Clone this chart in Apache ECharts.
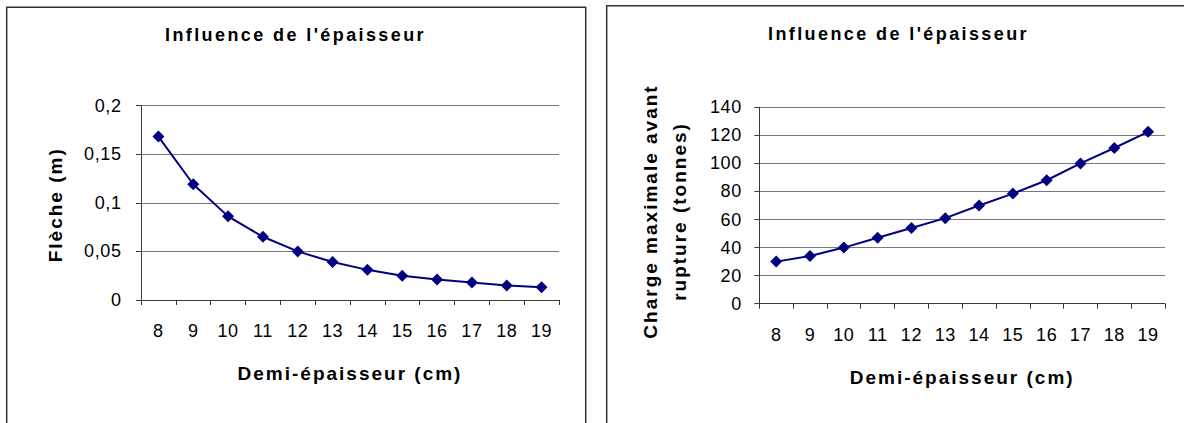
<!DOCTYPE html>
<html>
<head>
<meta charset="utf-8">
<script src="https://cdn.jsdelivr.net/npm/echarts@6/dist/echarts.min.js"></script>
<style>
html, body { margin: 0; padding: 0; background: #ffffff; }
#chart { width: 1184px; height: 423px; }
#chart text { letter-spacing: 0.6px; }
#chart text[style*="bold"] { letter-spacing: 2px; }
#chart text[style*="bold"][style*="18px"] { letter-spacing: 2.4px; }
</style>
</head>
<body>
<div id="chart"></div>
<script>
// ---- data ----
const categories = ['8', '9', '10', '11', '12', '13', '14', '15', '16', '17', '18', '19'];
const flecheValues = [0.168, 0.119, 0.086, 0.065, 0.05, 0.039, 0.031, 0.025, 0.021, 0.018, 0.015, 0.013];
const chargeValues = [30, 34, 40, 47, 54, 61, 70, 78.5, 88, 100, 111, 122.5];

const chartTitle = "Influence de l'épaisseur";
const xAxisTitle = 'Demi-épaisseur (cm)';
const flecheAxisTitle = 'Flèche (m)';
const chargeAxisTitle = 'Charge maximale avant\nrupture (tonnes)';

const flecheScale = { min: 0, max: 0.2, interval: 0.05 };
const chargeScale = { min: 0, max: 140, interval: 20 };

// ---- styling ----
const FONT = "'Liberation Sans', Arial, sans-serif";
const NAVY = '#000080';
const AXIS_COLOR = '#3a3a3a';
const GRID_COLOR = '#7a7a7a';

function frenchNumber(v) {
  return String(Math.round(v * 1000) / 1000).replace('.', ',');
}

function xAxis(gridIndex) {
  return {
    type: 'category',
    gridIndex: gridIndex,
    data: categories,
    boundaryGap: true,
    name: xAxisTitle,
    nameLocation: 'middle',
    nameGap: 64,
    nameTextStyle: { fontFamily: FONT, fontSize: 19, fontWeight: 'bold', color: '#000' },
    axisLine: { show: true, lineStyle: { color: AXIS_COLOR, width: 1 } },
    axisTick: { show: true, alignWithLabel: false, length: 5, inside: false, lineStyle: { color: AXIS_COLOR } },
    axisLabel: { fontFamily: FONT, fontSize: 18, color: '#000', margin: 22, interval: 0 },
    splitLine: { show: false }
  };
}

function yAxis(gridIndex, scale, name, nameGap, labelMargin, namePadding, lineHeight) {
  return {
    type: 'value',
    gridIndex: gridIndex,
    min: scale.min,
    max: scale.max,
    interval: scale.interval,
    name: name,
    nameLocation: 'middle',
    nameGap: nameGap,
    nameTextStyle: {
      fontFamily: FONT, fontSize: 19, fontWeight: 'bold', color: '#000',
      lineHeight: lineHeight, padding: namePadding
    },
    axisLine: { show: true, lineStyle: { color: AXIS_COLOR, width: 1 } },
    axisTick: { show: true, length: 5, inside: false, lineStyle: { color: AXIS_COLOR } },
    axisLabel: { fontFamily: FONT, fontSize: 18, color: '#000', margin: labelMargin, formatter: frenchNumber },
    splitLine: { show: true, lineStyle: { color: GRID_COLOR, width: 1 } }
  };
}

function lineSeries(idx, values) {
  return {
    type: 'line',
    xAxisIndex: idx,
    yAxisIndex: idx,
    data: values,
    symbol: 'diamond',
    symbolSize: [12, 12],
    showSymbol: true,
    lineStyle: { color: NAVY, width: 2 },
    itemStyle: { color: NAVY },
    animation: false
  };
}

const chart = echarts.init(document.getElementById('chart'), null, { renderer: 'svg' });

chart.setOption({
  backgroundColor: '#ffffff',
  animation: false,
  title: [
    {
      text: chartTitle, left: 295.5, top: 35, padding: 0,
      textAlign: 'center', textVerticalAlign: 'middle',
      textStyle: { fontFamily: FONT, fontSize: 18, fontWeight: 'bold', color: '#000' }
    },
    {
      text: chartTitle, left: 898.5, top: 33.5, padding: 0,
      textAlign: 'center', textVerticalAlign: 'middle',
      textStyle: { fontFamily: FONT, fontSize: 18, fontWeight: 'bold', color: '#000' }
    }
  ],
  graphic: [
    {
      type: 'rect', silent: true, z: -1,
      shape: { x: 6.7, y: 7.3, width: 579, height: 440 },
      style: { fill: 'none', stroke: '#333333', lineWidth: 1.5 }
    },
    {
      type: 'rect', silent: true, z: -1,
      shape: { x: 606.7, y: 5.7, width: 620, height: 440 },
      style: { fill: 'none', stroke: '#333333', lineWidth: 1.5 }
    }
  ],
  grid: [
    { left: 141, top: 105.5, width: 418, height: 194.5, containLabel: false },
    { left: 759.3, top: 107.3, width: 405.7, height: 196.4, containLabel: false }
  ],
  xAxis: [xAxis(0), xAxis(1)],
  yAxis: [
    yAxis(0, flecheScale, flecheAxisTitle, 75, 19.5, [0, 4, 0, 0], 22),
    yAxis(1, chargeScale, chargeAxisTitle, 65, 17.5, [0, 12, 0, 0], 29)
  ],
  series: [lineSeries(0, flecheValues), lineSeries(1, chargeValues)]
});
</script>
</body>
</html>
